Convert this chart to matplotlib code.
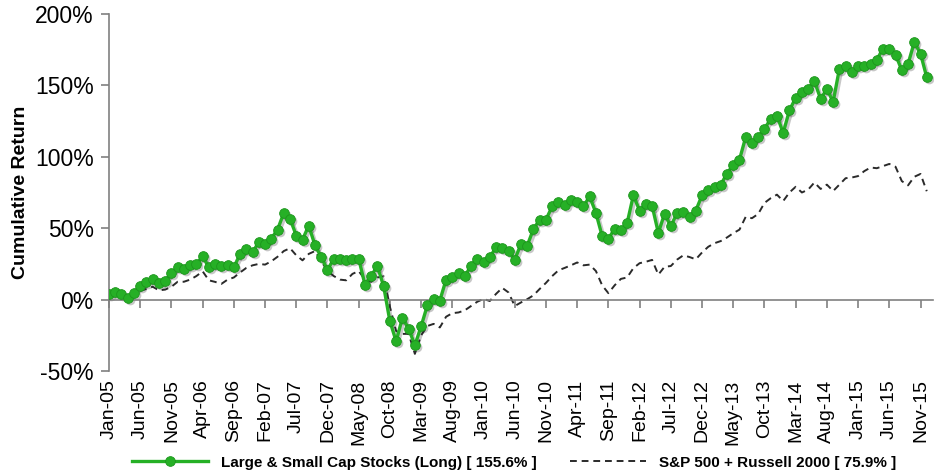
import matplotlib
matplotlib.use("Agg")
import matplotlib.pyplot as plt
import matplotlib.transforms as mtransforms
import numpy as np

# ---------------- data ----------------
tick_labels = ["Jan-05", "Jun-05", "Nov-05", "Apr-06", "Sep-06", "Feb-07", "Jul-07",
               "Dec-07", "May-08", "Oct-08", "Mar-09", "Aug-09", "Jan-10", "Jun-10",
               "Nov-10", "Apr-11", "Sep-11", "Feb-12", "Jul-12", "Dec-12", "May-13",
               "Oct-13", "Mar-14", "Aug-14", "Jan-15", "Jun-15", "Nov-15"]

# monthly cumulative return (%), Jan-05 .. Dec-15
strategy = [4, 5.4, 4, 1.2, 4.7, 9.8, 12, 14.7, 11.7, 13.3,
            18.7, 22.6, 21.2, 24, 25, 30.3, 22.6, 25.2, 23.3, 24.5,
            22.6, 32, 35.2, 33, 40.4, 39, 42.7, 49, 60.7, 56.7,
            44.8, 42, 51.8, 38, 29.9, 20.8, 28.5, 28.7, 28, 28.5,
            28.7, 10.5, 16.8, 23.3, 9.3, -15.2, -29.2, -12.8, -20.3, -32,
            -18.7, -4, 0.5, -0.7, 14, 15.6, 18.7, 16.3, 23.8, 28.7,
            26.4, 29.6, 36.6, 36.2, 33.8, 28, 39, 37.8, 49.5, 56,
            56, 65.3, 68.4, 66.5, 70, 68.4, 65.3, 72.3, 60.7, 44.5,
            42.5, 49.6, 48.8, 53.5, 73, 62.3, 67, 65.8, 46.7, 60.2,
            51.3, 60.7, 61.2, 57.9, 62.3, 73, 76.5, 78.6, 80.5, 88.2,
            94.5, 98, 113.9, 109.7, 113.9, 119.6, 126.5, 128.9, 116.7, 132.6,
            141.2, 145.2, 147.8, 152.9, 140.5, 147.5, 138.4, 161.5, 163.4, 159.2,
            163.9, 163.9, 165.3, 168, 175.8, 175.8, 171.6, 160.6, 165, 180.2,
            172.3, 155.6]

benchmark = [2.3, 4, 3, 0.5, 4, 6, 7.5, 9, 6.5, 7,
             9, 12.5, 12.5, 14, 16.5, 19.8, 13.5, 12.4, 11, 14,
             15.5, 19, 22.2, 24, 25, 24.5, 26.8, 30, 34, 36,
             31, 27.5, 32, 34, 27, 20, 16.5, 14, 13.5, 18,
             20, 14, 12.5, 15.5, 16.3, -5, -22, -24, -24, -38,
             -25, -18.5, -17, -19.5, -12, -9.5, -9, -7.5, -4.5, -1.5,
             0.5, -1, 4, 8.2, 5, -4.5, -2, 0.3, 3, 7.5,
             11.7, 16.5, 20.5, 22.2, 24, 26, 24, 24.5, 20, 10,
             4.5, 10, 14.5, 15.5, 22, 25.5, 26.5, 27.8, 17.5, 23,
             23.5, 28, 31, 29.8, 28.2, 33, 37, 39.5, 41, 43.5,
             46.5, 49, 58, 57, 60, 67.7, 71, 73.5, 69, 75,
             79, 75, 77, 82, 77.5, 80.5, 76, 80.5, 85, 85.5,
             86.5, 90, 92.5, 92, 93.5, 95, 93, 83, 80, 86,
             88, 75.9]

series_names = ["Large & Small Cap Stocks (Long) [ 155.6% ]",
                "S&P 500 + Russell 2000 [ 75.9% ]"]

# ---------------- plot ----------------
plt.rcParams['font.family'] = ['Liberation Sans', 'DejaVu Sans']

fig = plt.figure(figsize=(9.38, 4.73), dpi=100)
ax = fig.add_axes([109/938, 1-371/473, (933-109)/938, (371-14)/473])

x = np.arange(len(strategy))
green = "#26B026"

# drop shadow of the green series
shadow_tr = mtransforms.offset_copy(ax.transData, fig=fig, x=2, y=-2, units='dots')
ax.plot(x, strategy, color="#000000", alpha=0.22, lw=2.6, marker='o', ms=7,
        mec='none', transform=shadow_tr, zorder=2)
l1, = ax.plot(x, strategy, color=green, lw=2.4, marker='o', ms=7,
              mfc=green, mec="#1c951c", mew=0.6, zorder=3, label=series_names[0])
l2, = ax.plot(np.arange(len(benchmark)), benchmark, color="#2a2a2a", lw=1.4,
              ls=(0, (3.5, 2.5)), zorder=2.5, label=series_names[1])

ax.set_xlim(0, 132)
ax.set_ylim(-50, 200)
ax.set_yticks([-50, 0, 50, 100, 150, 200])
ax.set_yticklabels([f"{v}%" for v in [-50, 0, 50, 100, 150, 200]])
ax.tick_params(axis='y', labelsize=16.5, length=6, color="#808080", width=1.2, pad=5)

for s in ['top', 'right']:
    ax.spines[s].set_visible(False)
ax.spines['left'].set_color("#808080")
ax.spines['left'].set_linewidth(1.2)
ax.spines['bottom'].set_position(('data', 0))
ax.spines['bottom'].set_color("#808080")
ax.spines['bottom'].set_linewidth(1.2)

ticks = np.arange(0, 131, 5)
ax.set_xticks(ticks)
ax.tick_params(axis='x', length=6, color="#808080", width=1.2, labelbottom=False)

sec = ax.secondary_xaxis('bottom')
sec.set_xticks(ticks)
sec.set_xticklabels(tick_labels, rotation=90, fontsize=14)
sec.tick_params(length=0, pad=6)
sec.spines['bottom'].set_visible(False)

ax.set_ylabel("Cumulative Return", fontsize=14, fontweight='bold', labelpad=4)

fig.legend(handles=[l1, l2], loc='lower center', bbox_to_anchor=(0.548, -0.022),
           ncol=2, frameon=False, prop={'weight': 'bold', 'size': 11},
           handlelength=5, numpoints=1, columnspacing=2.2, handletextpad=0.8)

fig.savefig("out.png", dpi=100)
